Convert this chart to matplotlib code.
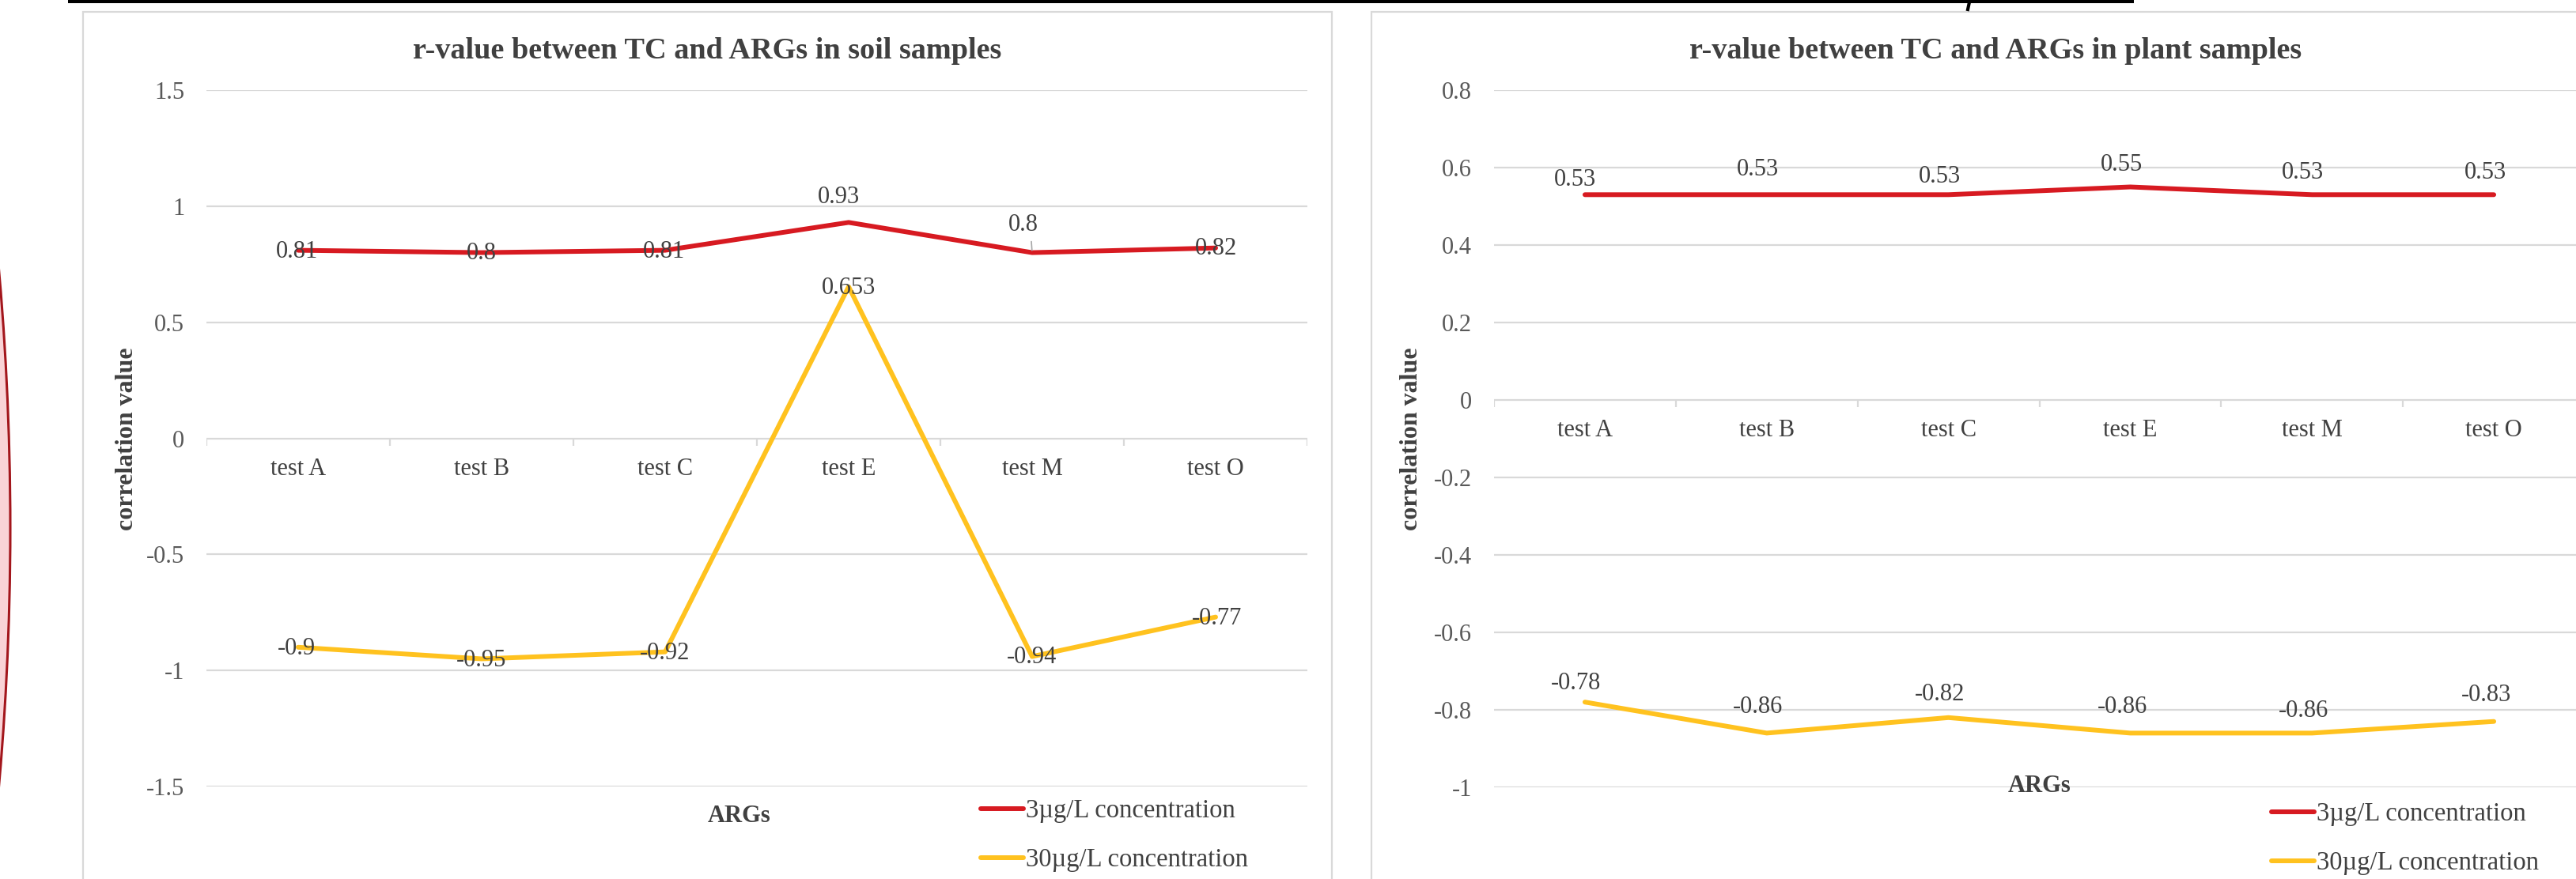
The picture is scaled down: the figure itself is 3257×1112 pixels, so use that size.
import numpy as np
import matplotlib
matplotlib.use("Agg")
import matplotlib.pyplot as plt
from matplotlib.patches import Rectangle, Circle
from matplotlib.lines import Line2D
from matplotlib.transforms import IdentityTransform

plt.rcParams['font.family'] = ['Liberation Serif', 'DejaVu Serif']
plt.rcParams['axes.unicode_minus'] = False

# ---- data ----
categories = ['test A', 'test B', 'test C', 'test E', 'test M', 'test O']
series_names = ['3µg/L concentration', '30µg/L concentration']

soil_3ug = [0.81, 0.8, 0.81, 0.93, 0.8, 0.82]
soil_30ug = [-0.9, -0.95, -0.92, 0.653, -0.94, -0.77]

plant_3ug = [0.53, 0.53, 0.53, 0.55, 0.53, 0.53]
plant_30ug = [-0.78, -0.86, -0.82, -0.86, -0.86, -0.83]

soil_yticks = [-1.5, -1, -0.5, 0, 0.5, 1, 1.5]
plant_yticks = [-1, -0.8, -0.6, -0.4, -0.2, 0, 0.2, 0.4, 0.6, 0.8]

# ---- styling ----
W, H = 3257, 1112
RED = '#D71A21'
GOLD = '#FFC21F'
GRID = '#D9D9D9'
TXT = '#404040'
FS = 22

fig = plt.figure(figsize=(W / 100, H / 100), dpi=100)
fig.patch.set_facecolor('white')


def px_axes(x0, x1, ytop, ybot):
    return fig.add_axes([x0 / W, 1 - ybot / H, (x1 - x0) / W, (ybot - ytop) / H])


def draw_chart(ax, s1, s2, yticks, off1, off2, ylims):
    x = np.arange(len(categories))
    ax.set_xlim(-0.5, len(categories) - 0.5)
    ax.set_ylim(*ylims)
    for s in ax.spines.values():
        s.set_visible(False)
    ax.set_xticks([])
    ax.set_yticks(yticks)
    ax.set_yticklabels([f'{v:g}' for v in yticks], fontsize=FS, color='#595959')
    ax.tick_params(axis='y', length=0, pad=20)
    ax.grid(axis='y', color=GRID, lw=1.6)
    ax.set_axisbelow(True)

    # little category ticks hanging under the zero line
    hpx = ax.get_position().height * H
    tick = 9 * (ylims[1] - ylims[0]) / hpx
    ax.vlines(np.arange(-0.5, len(categories)), 0, -tick, color=GRID, lw=1.6, zorder=1)

    for i, c in enumerate(categories):
        ax.annotate(c, (i, 0), xytext=(0, -39), textcoords='offset pixels',
                    ha='center', va='center', fontsize=FS, color=TXT)

    l1, = ax.plot(x, s1, color=RED, lw=4.3, solid_capstyle='round',
                  solid_joinstyle='round', label=series_names[0], zorder=3)
    l2, = ax.plot(x, s2, color=GOLD, lw=4.3, solid_capstyle='round',
                  solid_joinstyle='round', label=series_names[1], zorder=3)

    for vals, offs in ((s1, off1), (s2, off2)):
        for i, v in enumerate(vals):
            dx, dy = offs[i]
            ax.annotate(f'{v:g}', (i, v), xytext=(dx, dy), textcoords='offset pixels',
                        ha='center', va='center', fontsize=FS, color=TXT, zorder=4)
    return l1, l2


# left: soil
ax1 = px_axes(261, 1653, 114, 995)
soil_off1 = [(-2, -2), (0, -1), (-1, -2), (-12, 32), (-11, 35), (1, -1)]
soil_off2 = [(-2, -2), (0, -2), (0, -2), (0, -2), (0, -1), (2, -2)]
h1 = draw_chart(ax1, soil_3ug, soil_30ug, soil_yticks, soil_off1, soil_off2, (-1.5, 1.5))
# leader line for the moved 0.8 label
ax1.annotate('', xy=(4, soil_3ug[4]), xytext=(-1, 14), textcoords='offset pixels',
             arrowprops=dict(arrowstyle='-', color='#A6A6A6', lw=1.2, shrinkA=0, shrinkB=2))

# right: plant
ax2 = px_axes(1889, 3268, 114, 996)
plant_off1 = [(-12, 19), (-11, 32), (-11, 23), (-11, 28), (-12, 28), (-11, 28)]
plant_off2 = [(-11, 24), (-11, 33), (-11, 29), (-10, 33), (-11, 28), (-10, 33)]
h2 = draw_chart(ax2, plant_3ug, plant_30ug, plant_yticks, plant_off1, plant_off2, (-1.0, 0.8))

# titles, axis titles, legends
for cx, title in ((894, 'r-value between TC and ARGs in soil samples'),
                  (2523, 'r-value between TC and ARGs in plant samples')):
    fig.text(cx / W, 1 - 64 / H, title, ha='center', va='center',
             fontsize=27.5, fontweight='bold', color=TXT)

for cx in (160, 1784):
    fig.text(cx / W, 1 - 555 / H, 'correlation value', rotation=90, ha='center',
             va='center', fontsize=23, fontweight='bold', color=TXT)

fig.text(935 / W, 1 - 1033 / H, 'ARGs', ha='center', va='center',
         fontsize=FS, fontweight='bold', color=TXT)
fig.text(2579 / W, 1 - 994 / H, 'ARGs', ha='center', va='center',
         fontsize=FS, fontweight='bold', color=TXT)

for ax, h, lx, my in ((ax1, h1, 1240, 1057), (ax2, h2, 2872, 1061)):
    ax.legend(handles=list(h), loc='center left', bbox_to_anchor=(lx / W, 1 - my / H),
              bbox_transform=fig.transFigure, frameon=False, borderpad=0,
              borderaxespad=0, handlelength=1.65, handletextpad=0.1,
              labelspacing=0.95, fontsize=23.5, labelcolor=TXT)

# ---- screenshot surroundings: chart frames, cut-off shapes ----
ident = IdentityTransform()
fig.add_artist(Rectangle((105, -20), 1684 - 105, H - 15 + 20, transform=ident,
                         fc='none', ec=GRID, lw=1.6, zorder=-5))
fig.add_artist(Rectangle((1734, -20), 1700, H - 15 + 20, transform=ident,
                         fc='none', ec=GRID, lw=1.6, zorder=-5))
fig.add_artist(Rectangle((86, H - 4), 2698 - 86, 6, transform=ident,
                         fc='black', ec='none', zorder=5))
fig.add_artist(Line2D([2491, 2488], [H + 2, H - 12], transform=ident,
                      color='black', lw=3, zorder=5))
R = 3726
fig.add_artist(Circle((13 - R, H - 668), R, transform=ident, fc='#F9D3D6',
                      ec='#A3161C', lw=2.2, zorder=-4))

fig.savefig('out.png', dpi=100)
